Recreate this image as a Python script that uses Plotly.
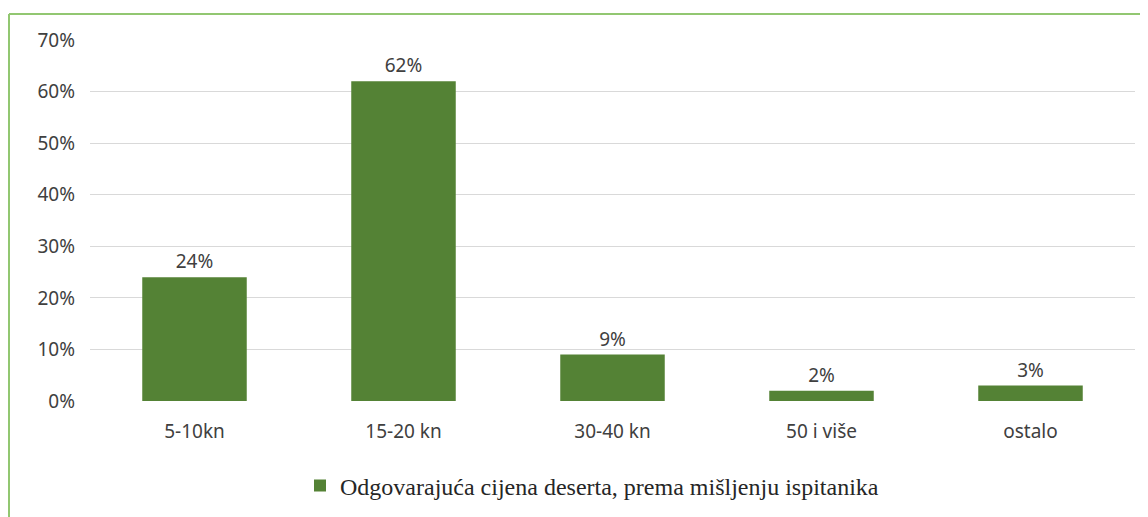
import plotly.graph_objects as go

categories = ["5-10kn", "15-20 kn", "30-40 kn", "50 i više", "ostalo"]
values = [24, 62, 9, 2, 3]
series_name = "Odgovarajuća cijena deserta, prema mišljenju ispitanika"
y_ticks = [0, 10, 20, 30, 40, 50, 60, 70]
y_tick_labels = [f"{v}%" for v in y_ticks]

# page has 8px body margin; figure placed at (8,8)
OFF = 8
W, H = 1148 - OFF, 517 - OFF
L, T = 90 - OFF, 40 - OFF
R = W - (1135 - OFF)
B = H - (401 - OFF)
pw, ph = W - L - R, H - T - B

def px(x):  # page x -> paper
    return (x - OFF - L) / pw

def py(y):  # page y -> paper
    return (H - B - (y - OFF)) / ph

fig = go.Figure()
fig.add_trace(go.Bar(
    x=categories, y=values, name=series_name,
    marker=dict(color="#548235", line=dict(width=0)),
    text=[f"{v}%" for v in values], textposition="outside",
    textfont=dict(family="Noto Sans", size=19, color="#404040"),
    cliponaxis=False, showlegend=True,
))

fig.update_layout(
    width=W, height=H,
    margin=dict(l=L, r=R, t=T, b=B, autoexpand=False),
    paper_bgcolor="white", plot_bgcolor="white",
    bargap=0.5,
    xaxis=dict(showgrid=False, showline=False, zeroline=False, automargin=False,
               tickfont=dict(family="Noto Sans", size=19, color="#404040"),
               ticks="", ticklabelstandoff=17),
    yaxis=dict(range=[0, 70], tickvals=y_ticks, ticktext=y_tick_labels,
               showgrid=True, gridcolor="#d9d9d9", gridwidth=1, zeroline=False,
               showline=False, ticks="", automargin=False,
               tickfont=dict(family="Noto Sans", size=19, color="#404040"),
               ticklabelstandoff=14),
    showlegend=True,
    legend=dict(orientation="h", x=px(592), xanchor="center", y=py(486), yanchor="middle",
                font=dict(family="Liberation Serif", size=24, color="#262626"),
                itemwidth=30),
    shapes=[
        dict(type="line", xref="paper", yref="paper", x0=px(9), x1=px(1160),
             y0=py(14), y1=py(14), line=dict(color="#92c771", width=2)),
        dict(type="line", xref="paper", yref="paper", x0=px(9), x1=px(9),
             y0=py(14), y1=py(530), line=dict(color="#92c771", width=2)),
    ],
    font=dict(family="Noto Sans"),
)

fig.write_html("out.html")
